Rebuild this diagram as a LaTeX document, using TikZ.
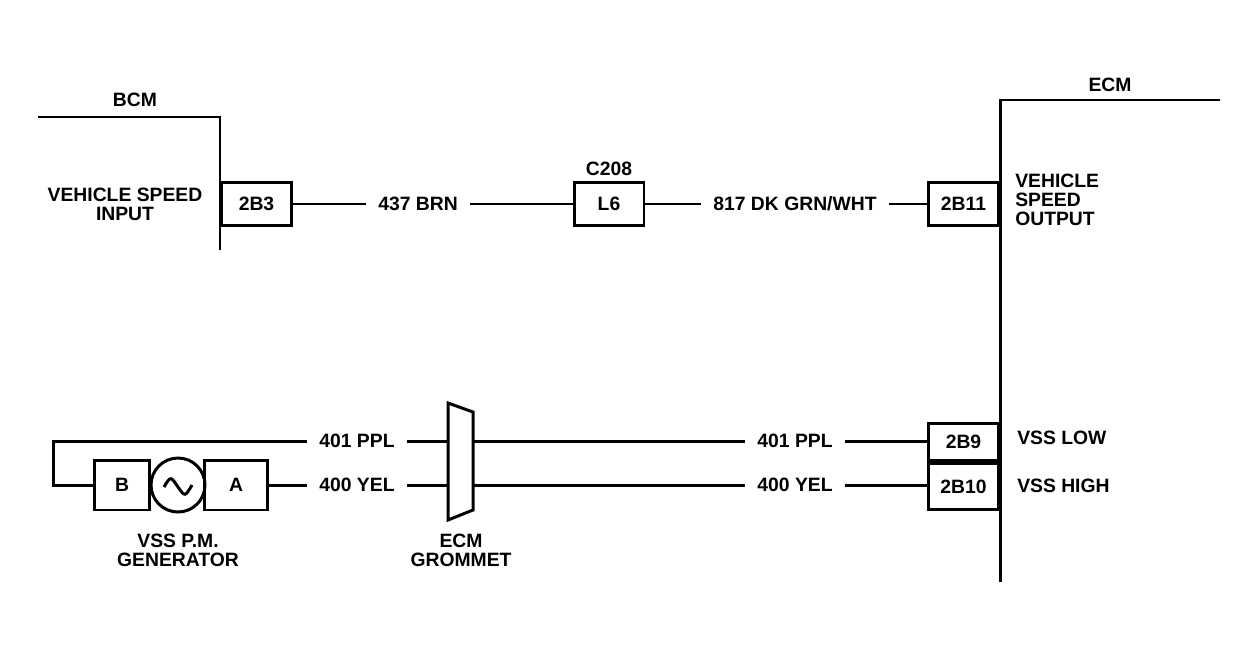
\documentclass[tikz,border=0pt]{standalone}
\usepackage{fontspec}
\setmainfont{Liberation Sans}
\begin{document}
\begin{tikzpicture}[x=0.02cm, y=-0.02cm, line width=1.7pt,
  lbl/.style={font=\fontsize{11}{10.8}\selectfont\bfseries, inner sep=1pt, align=center},
  pin/.style={lbl, draw, minimum width=1.4cm, minimum height=0.86cm, inner sep=0pt},
  wire/.style={lbl, inner xsep=6pt}]
\useasboundingbox (0,0) rectangle (1257,660);

%% modules
\draw (38,117) -- (220,117) -- (220,250);
\node [lbl] (bcm) at (135,100) {BCM};
\draw (1220,100) -- (1000,100) -- (1000,582);
\node [lbl] (ecm) at (1110,85) {ECM};

%% speed signal
\node [pin, anchor=west] (p2b3) at (220,204) {2B3};
\node [pin] (l6) at (609,204) {L6};
\node [lbl, above=1pt] at (l6.north) {C208};
\node [pin, anchor=east] (p2b11) at (1000,204) {2B11};
\node [lbl] at (125,204) {VEHICLE SPEED\\INPUT};
\node [lbl, anchor=west, align=left] at (1012,200) {VEHICLE\\SPEED\\OUTPUT};
\node [wire] (w437) at (418,204) {437 BRN};
\node [wire] (w817) at (795,204) {817 DK GRN/WHT};
\draw (p2b3) -- (w437) -- (l6) -- (w817) -- (p2b11);

%% generator
\node [pin, minimum width=1.1cm, minimum height=1cm] (b) at (122,485) {B};
\node [draw, circle, minimum size=1.08cm, inner sep=0pt] (gen) at (178,485) {};
\draw (gen.center) ++(-14,2) .. controls ++(7,-12) and ++(-7,-10) .. ++(14,0)
      .. controls ++(7,10) and ++(-7,12) .. ++(14,-2);
\node [pin, minimum width=1.26cm, minimum height=1cm] (a) at (236,485) {A};
\node [lbl] at (178,550) {VSS P.M.\\GENERATOR};

%% grommet
\draw (448,403) -- (473,412) -- (473,510) -- (448,520) -- cycle;
\node [lbl] at (461,550) {ECM\\GROMMET};
\coordinate (gl1) at (448,441); \coordinate (gr1) at (473,441);
\coordinate (gl2) at (448,485); \coordinate (gr2) at (473,485);

%% ECM pins
\node [pin, anchor=south east, minimum height=0.74cm] (p2b9) at (1000,462) {2B9};
\node [pin, anchor=north east, minimum height=0.92cm] (p2b10) at (1000,462) {2B10};
\node [lbl, anchor=west] at (1014,438) {VSS LOW};
\node [lbl, anchor=west] at (1014,486) {VSS HIGH};

%% wires
\node [wire] (w401a) at (357,441) {401 PPL};
\node [wire] (w400a) at (357,485) {400 YEL};
\node [wire] (w401b) at (795,441) {401 PPL};
\node [wire] (w400b) at (795,485) {400 YEL};
\draw (b.west) -- ++(-40,0) |- (w401a);
\draw (w401a) -- (gl1);
\draw (gr1) -- (w401b) -- (w401b -| p2b9.west);
\draw (a) -- (w400a) -- (gl2);
\draw (gr2) -- (w400b) -- (w400b -| p2b10.west);
\end{tikzpicture}
\end{document}
